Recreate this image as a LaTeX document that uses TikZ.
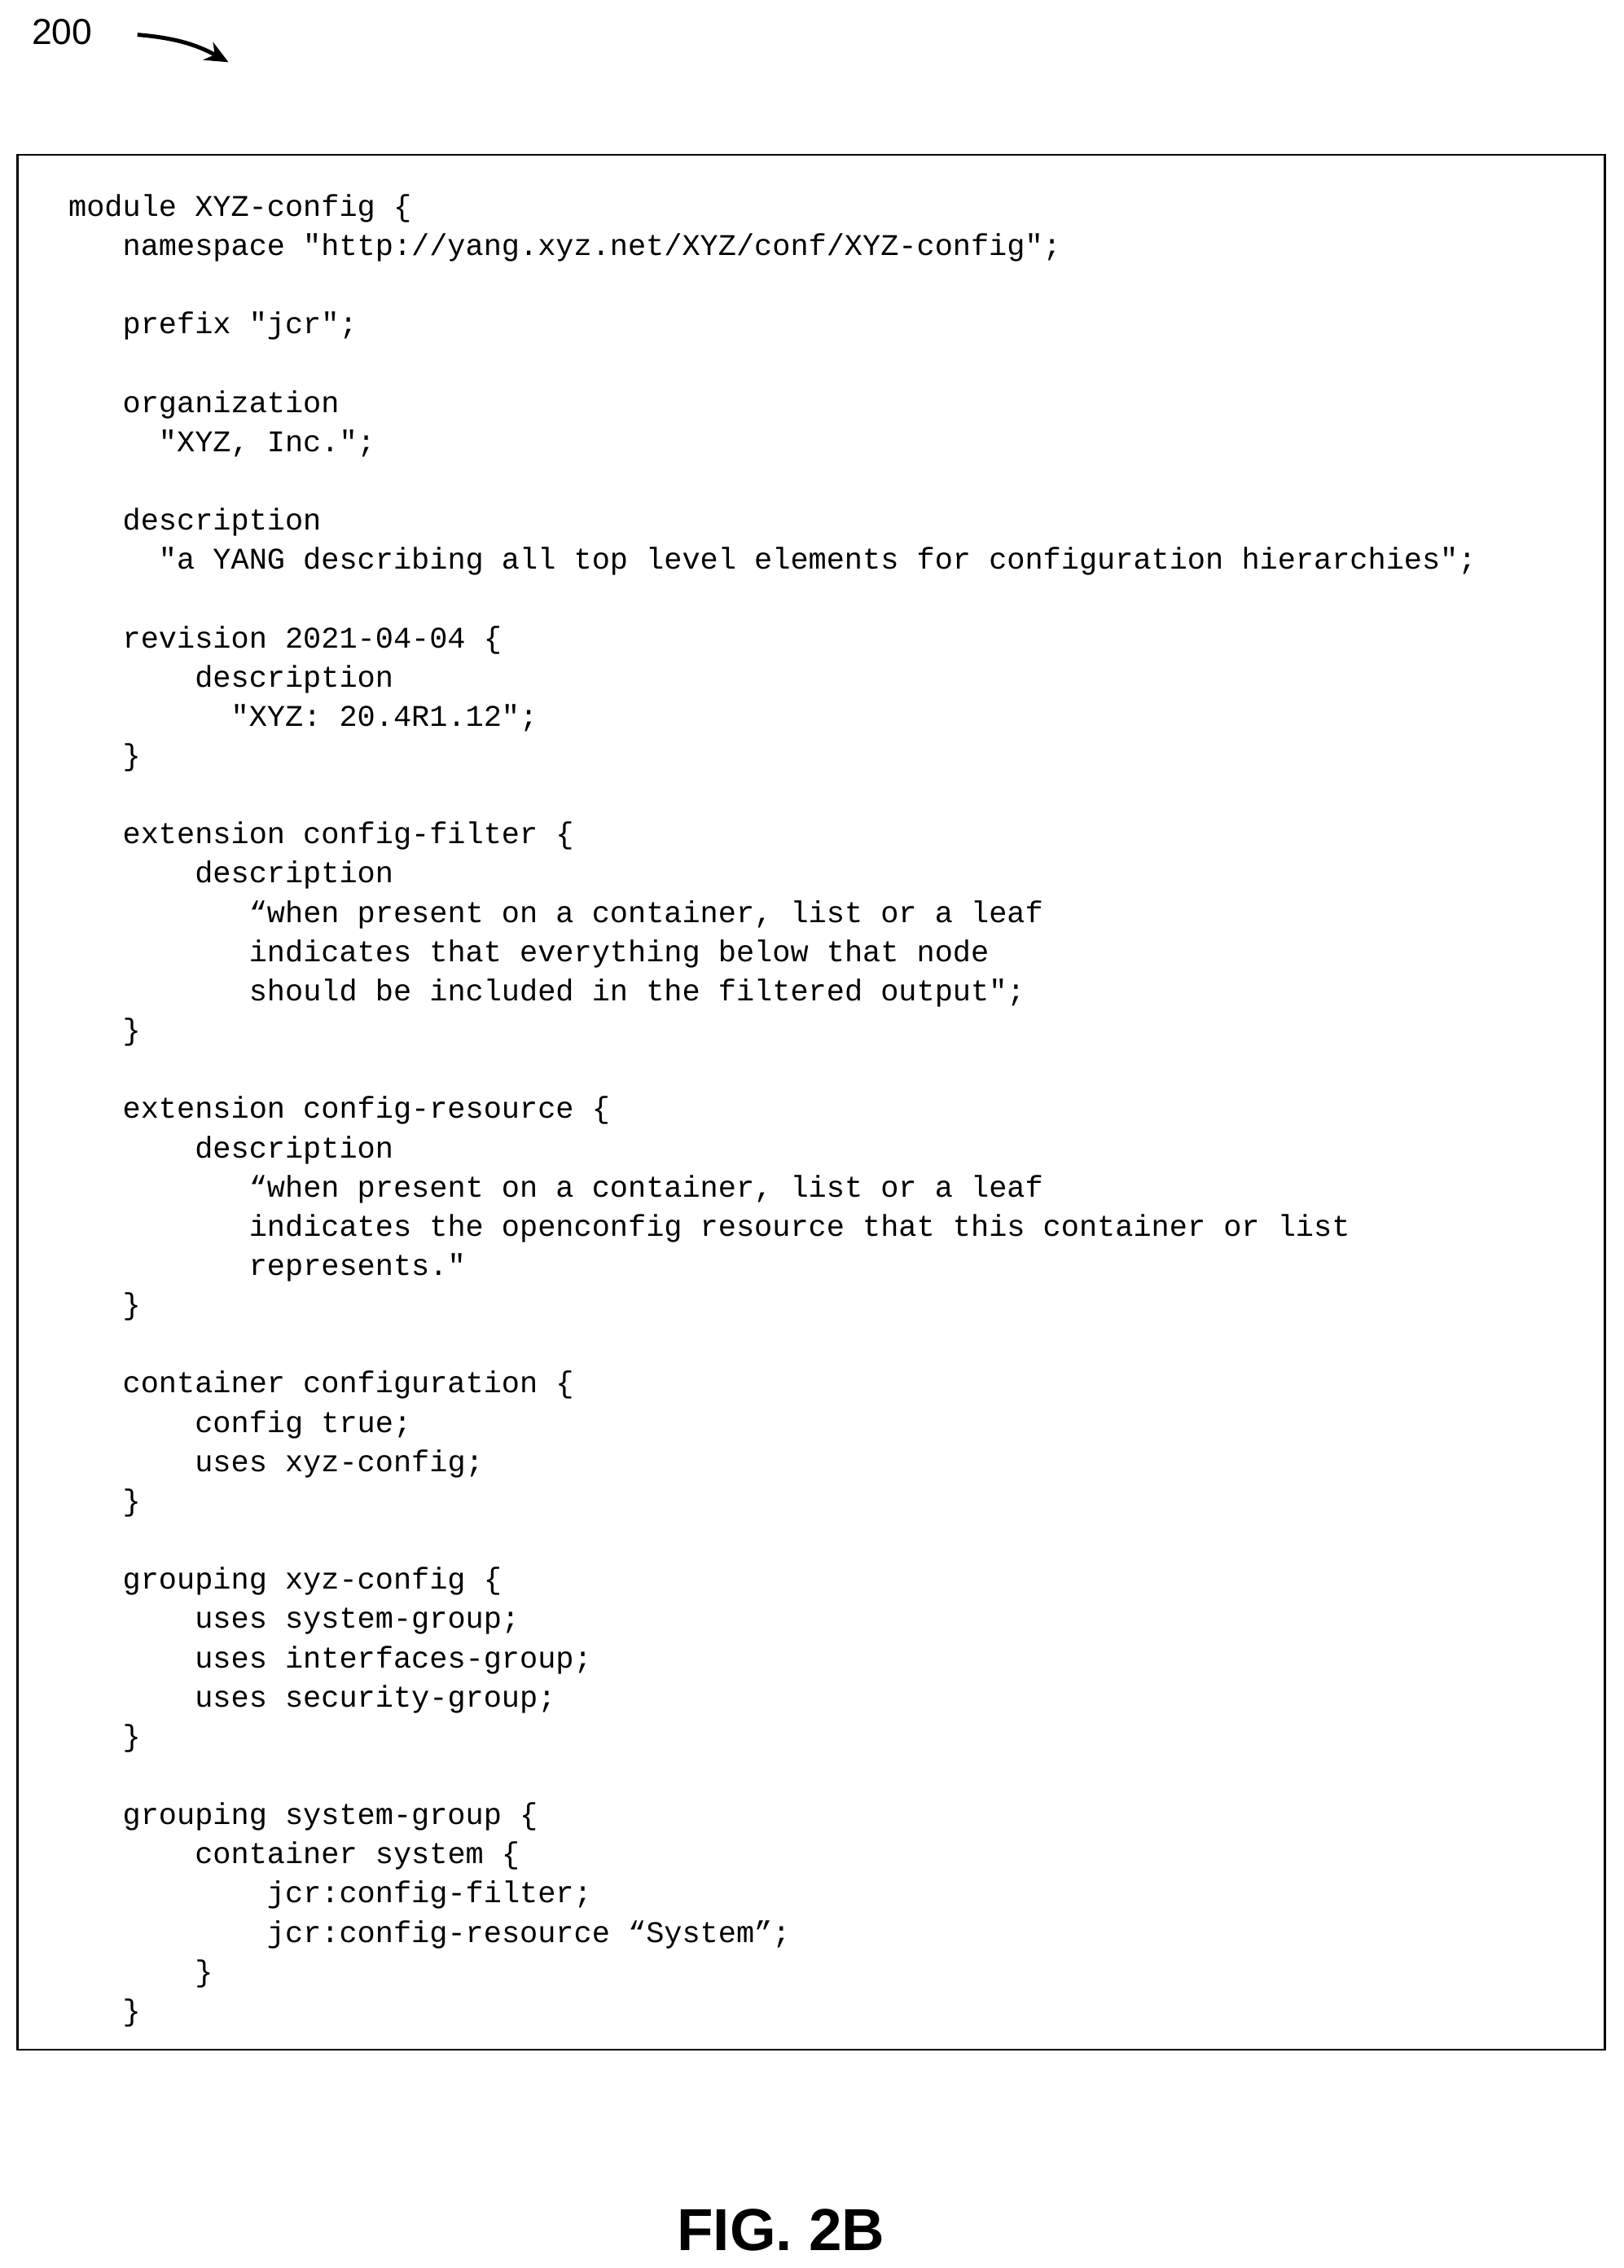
\documentclass[tikz,border=0pt]{standalone}
\usepackage{fontspec}
\setmainfont{Liberation Sans}
\newfontfamily\codefont{Liberation Mono}
\usetikzlibrary{positioning, arrows.meta}
\newcommand{\ind}[1]{\hspace*{#1\fontcharwd\font`x}}

\begin{document}
\begin{tikzpicture}[x=0.5pt, y=-0.5pt]
\useasboundingbox (0,0) rectangle (1123,1568);
% frame round the listing
\draw[line width=0.8pt] (12,107) rectangle (1110,1417);

% reference number
\node (ref) at (43,22) {\fontsize{12.5}{14}\selectfont 200};
\coordinate (refend) at (158,43);
\draw[line width=1.4pt, -{Stealth[length=8pt,width=7pt]}] (95,24) to[bend left=12] (refend);

% listing
\node[anchor=north west, align=left, inner sep=0pt, font=\codefont\fontsize{10.4}{13.56}\selectfont] (code) at (47,134) {%
module XYZ-config \{\\
\ind{3}namespace "http://yang.xyz.net/XYZ/conf/XYZ-config";\\
~\\
\ind{3}prefix "jcr";\\
~\\
\ind{3}organization\\
\ind{5}"XYZ, Inc.";\\
~\\
\ind{3}description\\
\ind{5}"a YANG describing all top level elements for configuration hierarchies";\\
~\\
\ind{3}revision 2021-04-04 \{\\
\ind{7}description\\
\ind{9}"XYZ: 20.4R1.12";\\
\ind{3}\}\\
~\\
\ind{3}extension config-filter \{\\
\ind{7}description\\
\ind{10}“when present on a container, list or a leaf\\
\ind{10}indicates that everything below that node\\
\ind{10}should be included in the filtered output";\\
\ind{3}\}\\
~\\
\ind{3}extension config-resource \{\\
\ind{7}description\\
\ind{10}“when present on a container, list or a leaf\\
\ind{10}indicates the openconfig resource that this container or list\\
\ind{10}represents."\\
\ind{3}\}\\
~\\
\ind{3}container configuration \{\\
\ind{7}config true;\\
\ind{7}uses xyz-config;\\
\ind{3}\}\\
~\\
\ind{3}grouping xyz-config \{\\
\ind{7}uses system-group;\\
\ind{7}uses interfaces-group;\\
\ind{7}uses security-group;\\
\ind{3}\}\\
~\\
\ind{3}grouping system-group \{\\
\ind{7}container system \{\\
\ind{11}jcr:config-filter;\\
\ind{11}jcr:config-resource “System”;\\
\ind{7}\}\\
\ind{3}\}};

% figure caption
\node[font=\bfseries\fontsize{20.5}{24}\selectfont] (fig) at (540,1542) {FIG. 2B};
\end{tikzpicture}
\end{document}
